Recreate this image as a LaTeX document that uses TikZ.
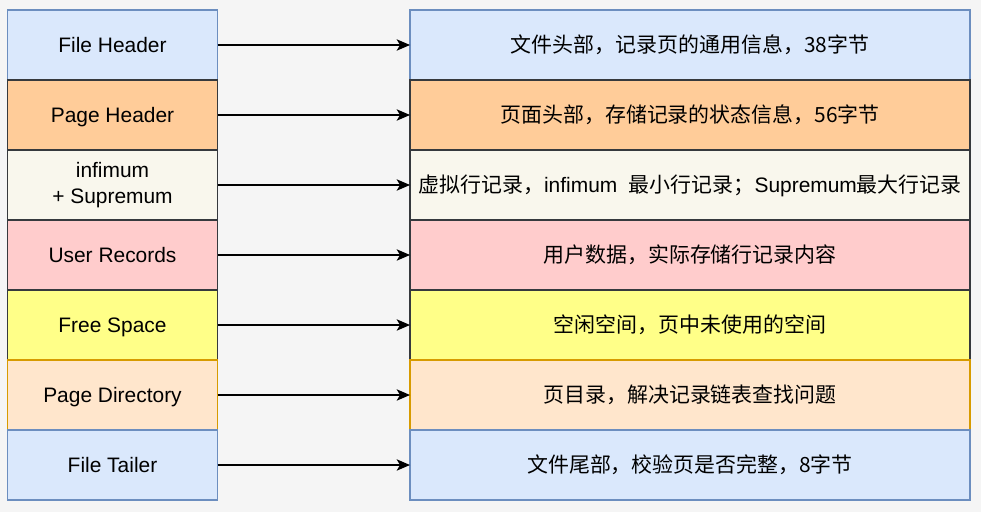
\documentclass[tikz,border=0pt]{standalone}
\usepackage{fontspec}
\setmainfont{Liberation Sans}
\newfontfamily\cjk{Noto Sans CJK SC}
\usetikzlibrary{positioning,arrows.meta}

\definecolor{bgGray}{HTML}{F5F5F5}
\definecolor{blueFill}{HTML}{DAE8FC}
\definecolor{blueLine}{HTML}{6C8EBF}
\definecolor{darkLine}{HTML}{36393D}
\definecolor{orangeFill}{HTML}{FFCC99}
\definecolor{creamFill}{HTML}{F9F7ED}
\definecolor{pinkFill}{HTML}{FFCCCC}
\definecolor{yellowFill}{HTML}{FFFF88}
\definecolor{peachFill}{HTML}{FFE6CC}
\definecolor{peachLine}{HTML}{D79B00}

\begin{document}
\begin{tikzpicture}[x=0.75pt, y=-0.75pt, node distance=144.4pt, >={Stealth[length=10pt, width=8.5pt, inset=2.5pt]}, line width=1.1pt]
    % Styles
    \tikzstyle{part} = [draw, rectangle, inner sep=0pt, outer sep=0pt, minimum width=157.5pt, minimum height=52.5pt, align=center, font=\fontsize{15.7}{19.5}\selectfont]
    \tikzstyle{desc} = [part, minimum width=420pt]
    \tikzstyle{oneline} = [text height=11.2pt, text depth=0pt]
    \tikzstyle{bluebox} = [fill=blueFill, draw=blueLine]
    \tikzstyle{orangebox} = [fill=orangeFill, draw=darkLine]
    \tikzstyle{creambox} = [fill=creamFill, draw=darkLine]
    \tikzstyle{pinkbox} = [fill=pinkFill, draw=darkLine]
    \tikzstyle{yellowbox} = [fill=yellowFill, draw=darkLine]
    \tikzstyle{peachbox} = [fill=peachFill, draw=peachLine]

    % Background
    \fill [bgGray] (0,0) rectangle (981,512);

    % Page parts
    \node [part, oneline, bluebox] (fh) at (112.5,45) {File Header};
    \node [part, oneline, orangebox, below=0pt of fh] (ph) {Page Header};
    \node [part, creambox, below=0pt of ph] (inf) {infimum\\+ Supremum};
    \node [part, oneline, pinkbox, below=0pt of inf] (ur) {User Records};
    \node [part, oneline, yellowbox, below=0pt of ur] (fs) {Free Space};
    \node [part, oneline, peachbox, below=0pt of fs] (pd) {Page Directory};
    \node [part, oneline, bluebox, below=0pt of pd] (ft) {File Tailer};

    % Descriptions
    \node [desc, oneline, bluebox, right=of fh] (fhd) {{\cjk 文件头部，记录页的通用信息，38字节}};
    \node [desc, oneline, orangebox, right=of ph] (phd) {{\cjk 页面头部，存储记录的状态信息，56字节}};
    \node [desc, oneline, creambox, right=of inf] (infd) {{\cjk 虚拟行记录，}infimum\ \ {\cjk 最小行记录；}Supremum{\cjk 最大行记录}};
    \node [desc, oneline, pinkbox, right=of ur] (urd) {{\cjk 用户数据，实际存储行记录内容}};
    \node [desc, oneline, yellowbox, right=of fs] (fsd) {{\cjk 空闲空间，页中未使用的空间}};
    \node [desc, oneline, peachbox, right=of pd] (pdd) {{\cjk 页目录，解决记录链表查找问题}};
    \node [desc, oneline, bluebox, right=of ft] (ftd) {{\cjk 文件尾部，校验页是否完整，8字节}};

    % Connections
    \foreach \a/\b in {fh/fhd, ph/phd, inf/infd, ur/urd, fs/fsd, pd/pdd, ft/ftd}
        \draw [->] (\a) -- (\b);
\end{tikzpicture}
\end{document}
